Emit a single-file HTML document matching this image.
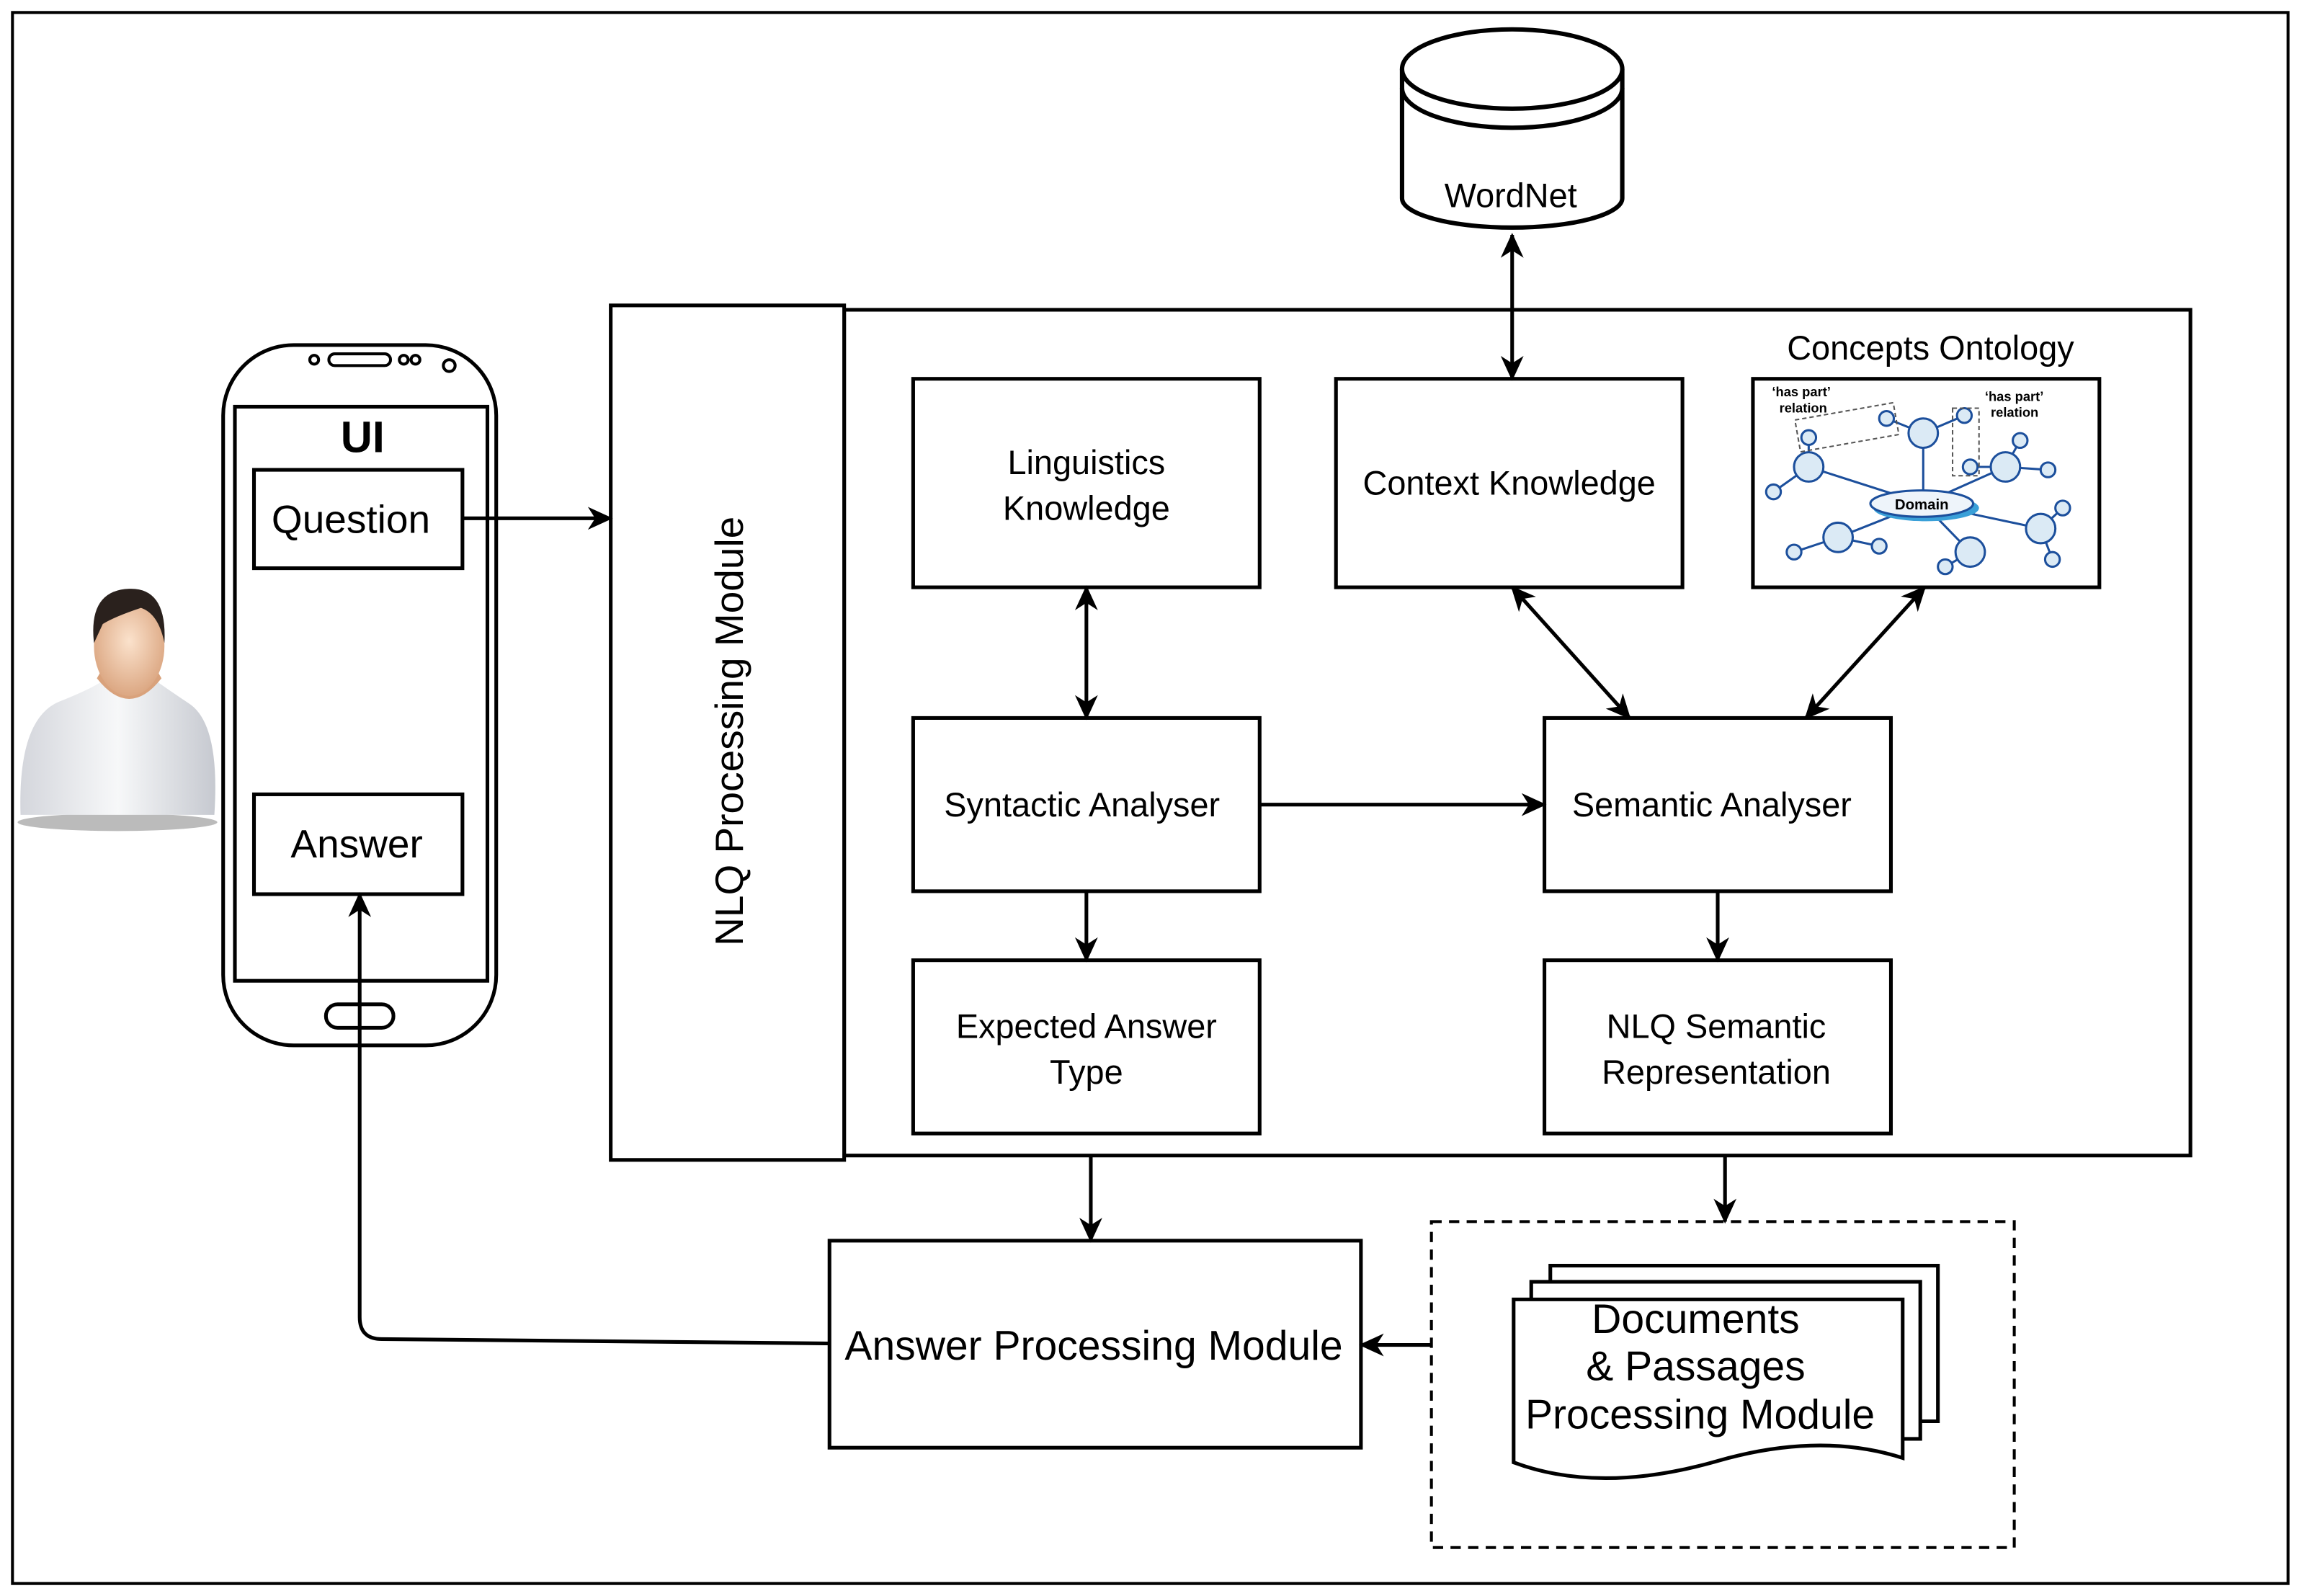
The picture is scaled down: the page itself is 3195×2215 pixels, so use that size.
<!DOCTYPE html>
<html><head><meta charset="utf-8">
<style>
html,body{margin:0;padding:0;background:#fff;}
svg{display:block;}
text{font-family:"Liberation Sans",sans-serif;fill:#000;}
</style></head>
<body>
<svg width="3195" height="2215" viewBox="0 0 1568 1087" preserveAspectRatio="none" xmlns="http://www.w3.org/2000/svg">
<defs>
<marker id="ah" viewBox="0 0 12 12" refX="11" refY="6" markerWidth="17" markerHeight="17" orient="auto-start-reverse" markerUnits="userSpaceOnUse">
<path d="M0,0.5 L12,6 L0,11.5 L3.5,6 z" fill="#000"/>
</marker>
<radialGradient id="skin" cx="0.5" cy="0.45" r="0.6"><stop offset="0" stop-color="#fbe2cc"/><stop offset="1" stop-color="#d9a27c"/></radialGradient>
<linearGradient id="shirt" x1="0" y1="0" x2="1" y2="0"><stop offset="0" stop-color="#d4d6dc"/><stop offset="0.5" stop-color="#f7f8f9"/><stop offset="1" stop-color="#c6c9d0"/></linearGradient>
</defs>
<rect x="0" y="0" width="1568" height="1087" fill="#fff"/>
<rect x="8.5" y="8.5" width="1550" height="1070" fill="none" stroke="#000" stroke-width="2"/>

<!-- WordNet cylinder -->
<path d="M955,47 L955,135 A75,20 0 0 0 1105,135 L1105,47" fill="#fff" stroke="#000" stroke-width="3"/>
<ellipse cx="1030" cy="47" rx="75" ry="27" fill="#fff" stroke="#000" stroke-width="3"/>
<path d="M955,60 A75,27 0 0 0 1105,60" fill="none" stroke="#000" stroke-width="3"/>
<text x="1029" y="141" font-size="23" text-anchor="middle">WordNet</text>

<!-- NLQ module -->
<rect x="575" y="211" width="917" height="576" fill="none" stroke="#000" stroke-width="2.5"/>
<rect x="416" y="208" width="159" height="582" fill="#fff" stroke="#000" stroke-width="2.5"/>
<text transform="translate(506,498) rotate(-90)" font-size="27" text-anchor="middle">NLQ Processing Module</text>

<g fill="#fff" stroke="#000" stroke-width="2.5">
<rect x="622" y="258" width="236" height="142"/>
<rect x="910" y="258" width="236" height="142"/>
<rect x="1194" y="258" width="236" height="142"/>
<rect x="622" y="489" width="236" height="118"/>
<rect x="1052" y="489" width="236" height="118"/>
<rect x="622" y="654" width="236" height="118"/>
<rect x="1052" y="654" width="236" height="118"/>
</g>
<g font-size="23" text-anchor="middle">
<text x="740" y="323">Linguistics</text>
<text x="740" y="354">Knowledge</text>
<text x="1028" y="337">Context Knowledge</text>
<text x="1315" y="245">Concepts Ontology</text>
<text x="737" y="556">Syntactic Analyser</text>
<text x="1166" y="556">Semantic Analyser</text>
<text x="740" y="707">Expected Answer</text>
<text x="740" y="738">Type</text>
<text x="1169" y="707">NLQ Semantic</text>
<text x="1169" y="738">Representation</text>
</g>

<!-- ontology graphic -->
<g stroke="#1c4f9c" stroke-width="1.5" fill="#dbeaf5">
<line x1="1310" y1="343" x2="1232" y2="318"/>
<line x1="1310" y1="343" x2="1310" y2="295"/>
<line x1="1310" y1="343" x2="1366" y2="318"/>
<line x1="1310" y1="343" x2="1252" y2="366"/>
<line x1="1310" y1="343" x2="1342" y2="376"/>
<line x1="1310" y1="343" x2="1390" y2="360"/>
<line x1="1232" y1="318" x2="1232" y2="298"/>
<line x1="1232" y1="318" x2="1208" y2="335"/>
<line x1="1310" y1="295" x2="1285" y2="285"/>
<line x1="1310" y1="295" x2="1338" y2="283"/>
<line x1="1366" y1="318" x2="1376" y2="300"/>
<line x1="1366" y1="318" x2="1395" y2="320"/>
<line x1="1366" y1="318" x2="1342" y2="318"/>
<line x1="1252" y1="366" x2="1222" y2="376"/>
<line x1="1252" y1="366" x2="1280" y2="372"/>
<line x1="1342" y1="376" x2="1325" y2="386"/>
<line x1="1390" y1="360" x2="1405" y2="346"/>
<line x1="1390" y1="360" x2="1398" y2="381"/>
<circle cx="1232" cy="318" r="10"/><circle cx="1310" cy="295" r="10"/><circle cx="1366" cy="318" r="10"/>
<circle cx="1252" cy="366" r="10"/><circle cx="1342" cy="376" r="10"/><circle cx="1390" cy="360" r="10"/>
<circle cx="1232" cy="298" r="5"/><circle cx="1208" cy="335" r="5"/><circle cx="1285" cy="285" r="5"/><circle cx="1338" cy="283" r="5"/>
<circle cx="1376" cy="300" r="5"/><circle cx="1395" cy="320" r="5"/><circle cx="1342" cy="318" r="5"/><circle cx="1222" cy="376" r="5"/>
<circle cx="1280" cy="372" r="5"/><circle cx="1325" cy="386" r="5"/><circle cx="1405" cy="346" r="5"/><circle cx="1398" cy="381" r="5"/>
<ellipse cx="1312" cy="346" rx="36" ry="9" fill="#3aa0d8" stroke="none"/>
<ellipse cx="1309" cy="343" rx="35" ry="9" fill="#eef4fa"/>
</g>
<text x="1309" y="347" font-size="10" font-weight="bold" text-anchor="middle">Domain</text>
<rect x="1224" y="280" width="68" height="22" fill="none" stroke="#555" stroke-dasharray="3,2" transform="rotate(-10 1258 291)"/>
<rect x="1330" y="278" width="18" height="46" fill="none" stroke="#555" stroke-dasharray="3,2"/>
<g font-size="9" font-weight="bold">
<text x="1207" y="270">‘has part’</text><text x="1212" y="281">relation</text>
<text x="1352" y="273">‘has part’</text><text x="1356" y="284">relation</text>
</g>

<!-- Answer processing -->
<rect x="565" y="845" width="362" height="141" fill="#fff" stroke="#000" stroke-width="2.5"/>
<text x="745" y="926" font-size="28" text-anchor="middle">Answer Processing Module</text>

<!-- dashed box -->
<rect x="975" y="832" width="397" height="222" fill="none" stroke="#000" stroke-width="2" stroke-dasharray="7,5"/>
<g fill="#fff" stroke="#000" stroke-width="2.5">
<path d="M1056,862 L1320,862 L1320,968 L1056,968 z"/>
<path d="M1043,873 L1308,873 L1308,980 L1043,980 z"/>
<path d="M1031,885 L1296,885 L1296,993 Q1240,975 1170,995 Q1090,1018 1031,996 z"/>
</g>
<g font-size="28" text-anchor="middle">
<text x="1155" y="908">Documents</text>
<text x="1155" y="940">&amp; Passages</text>
<text x="1158" y="973">Processing Module</text>
</g>

<!-- phone -->
<rect x="152" y="235" width="186" height="477" rx="48" ry="48" fill="#fff" stroke="#000" stroke-width="2.5"/>
<rect x="160" y="277" width="172" height="391" fill="#fff" stroke="#000" stroke-width="2.5"/>
<rect x="224" y="241" width="42" height="8" rx="4" fill="none" stroke="#000" stroke-width="2"/>
<circle cx="214" cy="245" r="3" fill="none" stroke="#000" stroke-width="2"/>
<circle cx="275" cy="245" r="3" fill="none" stroke="#000" stroke-width="2"/>
<circle cx="283" cy="245" r="3" fill="none" stroke="#000" stroke-width="2"/>
<circle cx="306" cy="249" r="4" fill="none" stroke="#000" stroke-width="2"/>
<rect x="222" y="684" width="46" height="16" rx="8" fill="none" stroke="#000" stroke-width="2.5"/>
<text x="247" y="308" font-size="30" font-weight="bold" text-anchor="middle">UI</text>
<rect x="173" y="320" width="142" height="67" fill="#fff" stroke="#000" stroke-width="2.5"/>
<text x="239" y="363" font-size="27" text-anchor="middle">Question</text>
<rect x="173" y="541" width="142" height="68" fill="#fff" stroke="#000" stroke-width="2.5"/>
<text x="243" y="584" font-size="27" text-anchor="middle">Answer</text>

<!-- arrows -->
<g stroke="#000" stroke-width="2.5" fill="none">
<line x1="1030" y1="160" x2="1030" y2="258" marker-start="url(#ah)" marker-end="url(#ah)"/>
<line x1="740" y1="400" x2="740" y2="489" marker-start="url(#ah)" marker-end="url(#ah)"/>
<line x1="1030" y1="400" x2="1110" y2="489" marker-start="url(#ah)" marker-end="url(#ah)"/>
<line x1="1311" y1="400" x2="1230" y2="489" marker-start="url(#ah)" marker-end="url(#ah)"/>
<line x1="858" y1="548" x2="1052" y2="548" marker-end="url(#ah)"/>
<line x1="740" y1="607" x2="740" y2="654" marker-end="url(#ah)"/>
<line x1="1170" y1="607" x2="1170" y2="654" marker-end="url(#ah)"/>
<line x1="743" y1="787" x2="743" y2="845" marker-end="url(#ah)"/>
<line x1="1175" y1="787" x2="1175" y2="832" marker-end="url(#ah)"/>
<line x1="975" y1="916" x2="927" y2="916" marker-end="url(#ah)"/>
<line x1="315" y1="353" x2="416" y2="353" marker-end="url(#ah)"/>
<path d="M565,915 L260,912 Q245,912 245,897 L245,609" marker-end="url(#ah)"/>
</g>

<!-- person -->
<ellipse cx="80" cy="560" rx="68" ry="6" fill="#bbb"/>
<path d="M14,555 Q12,490 40,478 Q60,470 68,465 L108,465 Q118,472 130,480 Q150,495 146,555 z" fill="url(#shirt)"/>
<path d="M66,462 Q88,490 110,462 L106,455 L70,455 z" fill="#d9a27c"/>
<ellipse cx="88" cy="440" rx="24" ry="34" fill="url(#skin)"/>
<path d="M64,438 Q60,402 88,401 Q114,400 112,438 Q108,418 96,414 Q78,420 70,425 z" fill="#2a211d"/>
</svg>
</body></html>
